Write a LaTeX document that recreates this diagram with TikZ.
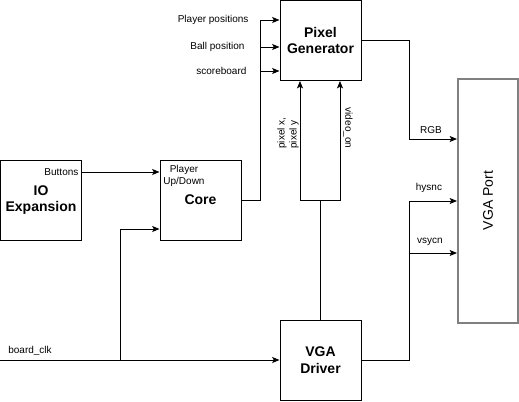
\documentclass[tikz,border=0pt]{standalone}
\usepackage{fontspec}
\setmainfont{Liberation Sans}
\usetikzlibrary{arrows.meta}

\begin{document}
\begin{tikzpicture}[x=0.75pt,y=-0.75pt,
    block_node/.style={draw,line width=0.75pt,minimum width=60.75pt,minimum height=60pt,align=center,font=\bfseries\fontsize{10.5}{12.5}\selectfont},
    port_node/.style={draw=gray,line width=1.5pt,minimum width=45pt,minimum height=183pt,font=\fontsize{10.5}{12.5}\selectfont},
    label_node/.style={inner sep=1pt,align=center,font=\fontsize{7.5}{9}\selectfont},
    arr/.style={-{Stealth[length=5.5pt,width=4.5pt,inset=1.2pt]},line width=0.75pt},
    wire/.style={line width=0.75pt}]

    \useasboundingbox (0,0) rectangle (519,401);

    \node[block_node] (gen) at (320.5,40.5) {Pixel\\Generator};
    \node[block_node] (core) at (200.5,200) {Core};
    \node[block_node] (io) at (41,200) {IO\\Expansion};
    \node[block_node] (drv) at (320.5,360) {VGA\\Driver};
    \node[port_node] (port) at (488,200.5) {\rotatebox{90}{VGA Port}};

    \coordinate (b0) at (260,200);
    \coordinate (b1) at (260,20);
    \coordinate (b2) at (260,47);
    \coordinate (b3) at (260,71);
    \coordinate (r1) at (409,139);
    \coordinate (h1) at (409,201);
    \coordinate (v1) at (409,253);
    \coordinate (sl) at (300,200);
    \coordinate (sr) at (340,200);
    \coordinate (clk) at (0,360);
    \coordinate (k1) at (120,360);
    \coordinate (k2) at (120,229);
    \coordinate (bt) at (81,172);

    % core to pixel generator
    \draw[arr] (core.east) -- (b0) -- (b1) -- (gen.west |- b1);
    \draw[arr] (b2) -- (gen.west |- b2);
    \draw[arr] (b3) -- (gen.west |- b3);
    \node[label_node,anchor=east] (lpp) at (250,20) {Player positions};
    \node[label_node,anchor=east] (lbp) at (246,47) {Ball position};
    \node[label_node,anchor=east] (lsb) at (248,71) {scoreboard};

    % io to core
    \draw[arr] (bt) -- (core.west |- bt);
    \node[label_node,anchor=east] (lbt) at (80,172) {Buttons};
    \node[label_node] (lud) at (184,176) {Player\\Up/Down};

    % clock
    \draw[arr] (clk) -- (drv.west);
    \draw[arr] (k1) -- (k2) -- (core.west |- k2);
    \node[label_node] (lclk) at (30,351) {board\_clk};

    % driver to pixel generator
    \draw[wire] (drv.north) -- (drv.north |- sl);
    \draw[arr] (drv.north |- sl) -- (sl) -- (gen.south -| sl);
    \draw[arr] (drv.north |- sr) -- (sr) -- (gen.south -| sr);
    \node[label_node,rotate=90,align=left] (lpx) at (288,133) {pixel x,\\pixel y};
    \node[label_node,rotate=-90] (lvo) at (348,128) {video\_on};

    % outputs to port
    \draw[arr] (gen.east) -| (r1) -- (port.west |- r1);
    \draw[arr] (drv.east) -| (h1) -- (port.west |- h1);
    \draw[arr] (v1) -- (port.west |- v1);
    \node[label_node] (lrgb) at (431,130) {RGB};
    \node[label_node] (lhs) at (429,188) {hysnc};
    \node[label_node] (lvs) at (430,242) {vsycn};
\end{tikzpicture}
\end{document}
